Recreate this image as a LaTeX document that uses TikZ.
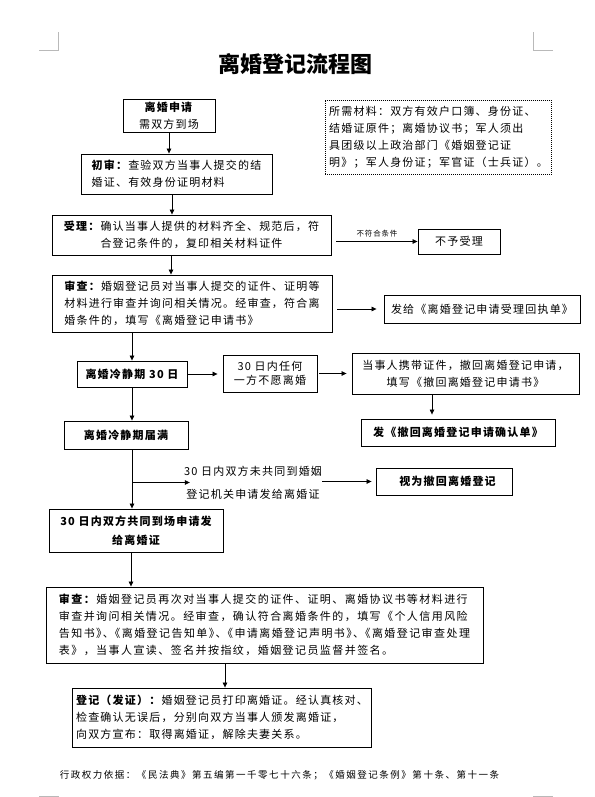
\documentclass[tikz,border=0pt]{standalone}
\usepackage{fontspec}
\setmainfont{Noto Sans CJK SC}[LetterSpace=11]
\newfontfamily\titlefont{Noto Sans CJK SC}
\usepackage{tikz}
\usetikzlibrary{arrows.meta}
\newcommand\jz{\kern-.4em}

\begin{document}
\begin{tikzpicture}[x=1pt, y=-1pt,
    box/.style={draw, line width=0.9pt, inner sep=0pt, align=center, font=\fontsize{11}{17}\selectfont},
    lbox/.style={box, align=left, inner xsep=4pt},
    bbox/.style={box, font=\fontsize{11}{19}\selectfont\bfseries},
    arr/.style={-{Triangle[length=5pt,width=4.5pt]}, line width=0.7pt},
    cropmark/.style={gray!55, line width=0.6pt}]
\useasboundingbox (0,0) rectangle (594,797);

\draw[cropmark] (39,50) -- (58,50) -- (58,32);
\draw[cropmark] (553,50) -- (533,50) -- (533,32);
\draw[cropmark] (39,796) -- (58,796) -- (58,797);
\draw[cropmark] (553,796) -- (533,796) -- (533,797);

\node[font=\titlefont\fontsize{22}{26}\selectfont\bfseries] (title) at (295,64) {离婚登记流程图};

\node[box, minimum width=92, minimum height=33] (req) at (169,115.5) {\textbf{离婚申请}\\需双方到场};
\node[lbox, minimum width=191, minimum height=40] (first) at (176.5,174) {\textbf{初审：}查验双方当事人提交的结\\婚证、有效身份证明材料};
\node[lbox, dash pattern=on 1pt off 1pt, line width=0.8pt, minimum width=225, minimum height=74] (materials) at (438.5,137) {所需材料：双方有效户口簿、身份证、\\结婚证原件；离婚协议书；军人须出\\具团级以上政治部门《婚姻登记证\\明》；军人身份证；军官证（士兵证）。};
\node[box, minimum width=279, minimum height=40] (accept) at (191.5,235) {\textbf{受理：}确认当事人提供的材料齐全、规范后，符\\合登记条件的，复印相关材料证件};
\node[box, minimum width=82, minimum height=25] (reject) at (459,241.5) {不予受理};
\node[lbox, minimum width=280, minimum height=57] (review) at (192,303.5) {\textbf{审查：}婚姻登记员对当事人提交的证件、证明等\\材料进行审查并询问相关情况。经审查，符合离\\婚条件的，填写《离婚登记申请书》};
\node[box, minimum width=196, minimum height=28] (receipt) at (482,309) {发给《离婚登记申请受理回执单》};
\node[bbox, minimum width=110, minimum height=26] (cool) at (132,374) {离婚冷静期 30 日};
\node[box, minimum width=94, minimum height=37, font=\fontsize{11}{14}\selectfont] (anyone) at (270,373.5) {30 日内任何\\一方不愿离婚};
\node[box, minimum width=227, minimum height=41] (withdraw) at (465.5,373.5) {当事人携带证件，撤回离婚登记申请，\\填写《撤回离婚登记申请书》};
\node[bbox, minimum width=194, minimum height=27] (confirm) at (458,432.5) {发《撤回离婚登记申请确认单》};
\node[bbox, minimum width=124, minimum height=28] (expire) at (126,435) {离婚冷静期届满};
\node[align=center, inner sep=0pt, font=\fontsize{11}{23}\selectfont] (cond) at (253,482.5) {30 日内双方未共同到婚姻\\登记机关申请发给离婚证};
\node[bbox, minimum width=136, minimum height=27] (deemed) at (444,481.5) {\hspace{7pt}视为撤回离婚登记};
\node[bbox, minimum width=174, minimum height=43] (jointly) at (136,530.5) {30 日内双方共同到场申请发\\给离婚证};
\node[lbox, minimum width=437, minimum height=76, font=\fontsize{11}{17}\selectfont\addfontfeature{LetterSpace=13}] (review2) at (264.5,625) {\textbf{审查：}婚姻登记员再次对当事人提交的证件、证明、离婚协议书等材料进行\\审查并询问相关情况。经审查，确认符合离婚条件的，填写《个人信用风险\\告知书》\jz、\jz《离婚登记告知单》\jz、\jz《申请离婚登记声明书》\jz、\jz《离婚登记审查处理\\表》，当事人宣读、签名并按指纹，婚姻登记员监督并签名。};
\node[lbox, minimum width=298, minimum height=59] (issue) at (222,717.5) {\textbf{登记（发证）：}婚姻登记员打印离婚证。经认真核对、\\检查确认无误后，分别向双方当事人颁发离婚证，\\向双方宣布：取得离婚证，解除夫妻关系。};
\node[font=\fontsize{9.5}{12}\selectfont\addfontfeature{LetterSpace=16}] (basis) at (279.5,775) {行政权力依据：《民法典》第五编第一千零七十六条；《婚姻登记条例》第十条、第十一条};

\draw[arr] (req.south) -- (req.south |- first.north);
\draw[arr] ([xshift=-4.5pt]first.south) -- ([xshift=-4.5pt]first.south |- accept.north);
\draw[arr] ([xshift=5pt]accept.east |- reject.west) -- (reject.west) node[midway, above=1pt, font=\fontsize{7.5}{9}\selectfont] {不符合条件};
\draw[arr] ([xshift=-20.5pt]accept.south) -- ([xshift=-20.5pt]accept.south |- review.north);
\draw[arr] ([xshift=5pt]review.east |- receipt.west) -- ([xshift=-7pt]receipt.west);
\draw[arr] (review.south -| cool.north) -- (cool.north);
\draw[arr] (cool.east) -- ([xshift=-5pt]anyone.west |- cool.east);
\draw[arr] ([xshift=2pt]anyone.east) -- ([xshift=-5pt]withdraw.west);
\draw[arr] ([xshift=-33.5pt]withdraw.south) -- ([xshift=-33.5pt, yshift=4pt]withdraw.south |- confirm.north);
\draw[arr] (cool.south) -- (cool.south |- expire.north);
\draw[arr] (cool.south |- expire.south) -- (cool.south |- jointly.north);
\coordinate (fork) at (cool.south |- cond.center);
\draw[arr] (fork) -- ([xshift=6pt]fork -| cond.west);
\draw[arr] (cond.east |- deemed.west) -- ([xshift=-4pt]deemed.west);
\draw[arr] ([xshift=-5pt]jointly.south) -- ([xshift=-5pt]jointly.south |- review2.north);
\draw[arr] ([xshift=3pt]issue.north |- review2.south) -- ([xshift=3pt]issue.north);
\end{tikzpicture}
\end{document}
